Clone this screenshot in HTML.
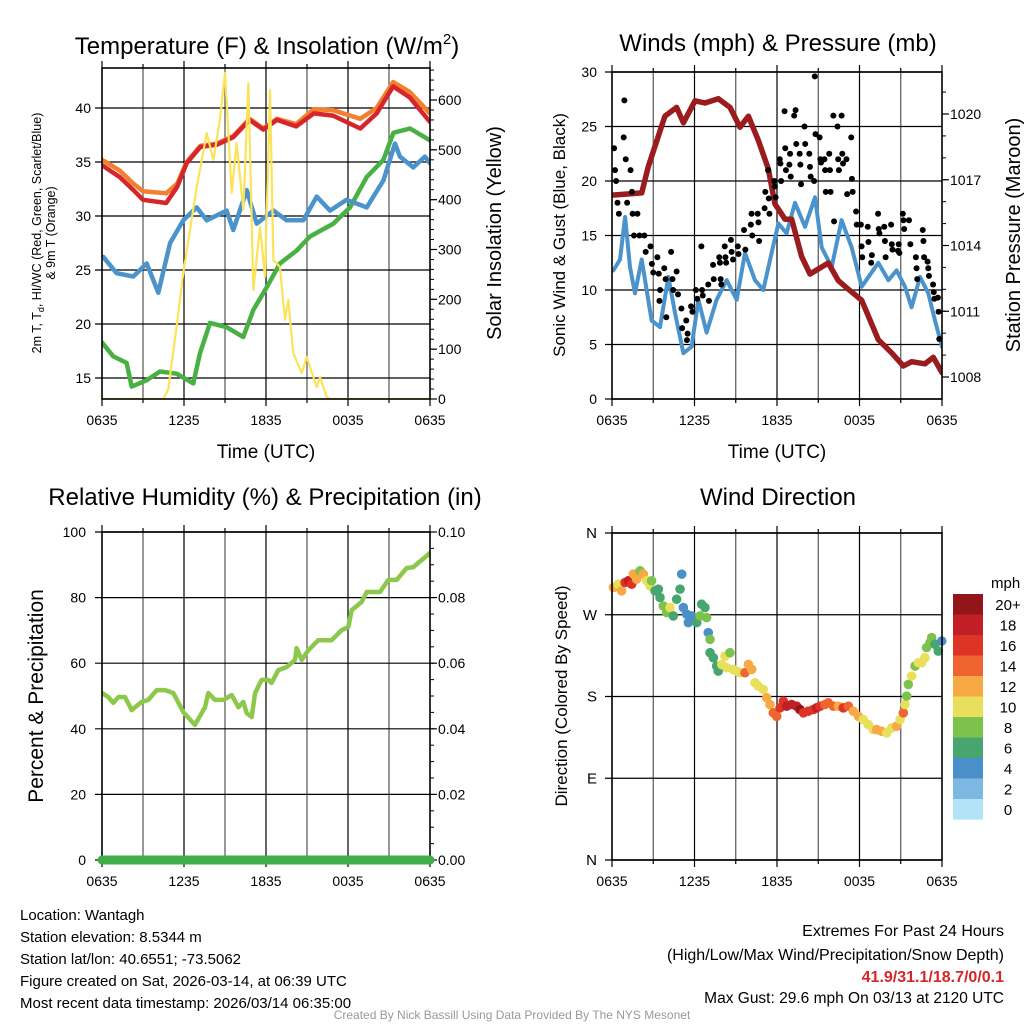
<!DOCTYPE html>
<html><head><meta charset="utf-8">
<style>
html,body{margin:0;padding:0;background:#fff;}
body{width:1024px;height:1024px;overflow:hidden;font-family:"Liberation Sans",sans-serif;}
svg text{font-family:"Liberation Sans",sans-serif;}
</style></head>
<body>
<svg id="chart" width="1024" height="1024" viewBox="0 0 1024 1024" xmlns="http://www.w3.org/2000/svg">
<g id="layer"></g>
<text x="267" y="54" font-size="24" text-anchor="middle">Temperature (F) &amp; Insolation (W/m<tspan font-size="15" dy="-10">2</tspan><tspan dy="10">)</tspan></text>
<text x="778" y="51" font-size="24" text-anchor="middle">Winds (mph) &amp; Pressure (mb)</text>
<text x="265" y="505" font-size="24" text-anchor="middle">Relative Humidity (%) &amp; Precipitation (in)</text>
<text x="778" y="505" font-size="24" text-anchor="middle">Wind Direction</text>
<text x="266" y="458" font-size="19" text-anchor="middle">Time (UTC)</text>
<text x="777" y="458" font-size="19" text-anchor="middle">Time (UTC)</text>
<g transform="translate(41,233) rotate(-90)" font-size="12.5" text-anchor="middle">
<text x="0" y="0">2m T, T<tspan font-size="9" dy="3">d</tspan><tspan dy="-3">, HI/WC (Red, Green, Scarlet/Blue)</tspan></text>
<text x="0" y="14">&amp; 9m T (Orange)</text></g>
<text transform="translate(501,233) rotate(-90)" font-size="20" text-anchor="middle">Solar Insolation (Yellow)</text>
<text transform="translate(565,235) rotate(-90)" font-size="17" text-anchor="middle">Sonic Wind &amp; Gust (Blue, Black)</text>
<text transform="translate(1020,235) rotate(-90)" font-size="20" text-anchor="middle">Station Pressure (Maroon)</text>
<text transform="translate(43,696) rotate(-90)" font-size="21" text-anchor="middle">Percent &amp; Precipitation</text>
<text transform="translate(567,696) rotate(-90)" font-size="17" text-anchor="middle">Direction (Colored By Speed)</text>
<text x="991" y="588" font-size="15">mph</text>
<g font-size="15">
<text x="20" y="920">Location: Wantagh</text>
<text x="20" y="942">Station elevation: 8.5344 m</text>
<text x="20" y="964">Station lat/lon: 40.6551; -73.5062</text>
<text x="20" y="986">Figure created on Sat, 2026-03-14, at 06:39 UTC</text>
<text x="20" y="1008">Most recent data timestamp: 2026/03/14 06:35:00</text>
</g>
<g font-size="16" text-anchor="end">
<text x="1004" y="936">Extremes For Past 24 Hours</text>
<text x="1004" y="960">(High/Low/Max Wind/Precipitation/Snow Depth)</text>
<text x="1004" y="982" fill="#d7262b" font-weight="bold">41.9/31.1/18.7/0/0.1</text>
<text x="1004" y="1003" font-size="15.5">Max Gust: 29.6 mph On 03/13 at 2120 UTC</text>
</g>
<text x="512" y="1019" font-size="12" fill="#999" text-anchor="middle">Created By Nick Bassill Using Data Provided By The NYS Mesonet</text>
</svg>
<script>
// ---- data ----
const xTickLabels = ["0635","1235","1835","0035","0635"];
const tempH = [0,1.3,2.3,3.0,4.7,5.5,6.2,7.2,8.4,9.6,10.8,11.8,12.8,14.2,15.5,16.9,18.9,20.1,21.3,22.5,24];
const tempT = [34.7,33.6,32.4,31.5,31.2,32.7,34.9,36.4,36.6,37.3,38.9,38.0,38.9,38.3,39.5,39.3,38.1,39.5,42.0,41.0,38.7];
const temp9m = [35.2,34.2,33.0,32.3,32.1,33.0,35.0,36.5,36.7,37.4,39.0,38.1,39.0,38.5,39.9,39.8,39.0,40.0,42.4,41.5,39.5];
const dewH = [0.1,1.07,2.29,3.27,4.12,4.98,5.95,6.93,7.66,9.12,9.61,10.59,11.32,12.54,13.51,14.73,15.71,16.68,17.9,19.37,20.59,21.44,21.8,22.78,23.63,24];
const dewT = [26.2,24.7,24.4,25.6,22.9,27.5,29.6,30.8,29.6,30.5,28.7,32.4,29.3,30.5,29.6,29.6,31.8,30.5,31.5,30.8,33.3,36.7,35.5,34.5,35.5,34.9];
const wcH = [0,0.83,1.8,2.17,3.27,4.24,5.46,6.68,7.17,7.9,9.12,10.34,11.07,12.05,13.02,14.24,15.22,16.93,18.15,19.37,20.59,21.32,22.54,24];
const wcT = [18.3,17,16.4,14.2,14.8,15.6,15.4,14.5,17.3,20.1,19.7,18.8,21.3,23.4,25.6,26.8,28.1,29.3,30.8,33.6,35.2,37.7,38.1,37];
const solH = [0,4.49,4.85,5.46,5.95,6.93,7.17,7.66,8.15,8.63,9.0,9.49,9.85,10.34,10.71,11.07,11.56,11.93,12.29,12.54,13.02,13.39,13.63,14.0,14.61,14.98,15.71,15.95,16.44,16.68,24];
const solW = [0,0,20,145,253,425,460,534,480,560,654,413,514,380,634,219,345,245,620,279,265,159,199,92,52,84,24,44,4,0,0];
const tempTicks = [15,20,25,30,35,40];
const solTicks = [0,100,200,300,400,500,600];

const presH = [0,2.16,2.64,3.85,4.7,5.19,6.04,6.76,7.73,8.58,9.31,9.92,10.64,11.37,11.85,12.58,13.07,13.79,14.4,15.73,16.46,17.19,18.16,19.37,20.34,21.19,21.79,22.76,23.37,24];
const presMb = [1016.3,1016.4,1017.6,1019.9,1020.3,1019.6,1020.6,1020.5,1020.7,1020.3,1019.4,1019.9,1018.8,1017.5,1015.9,1015.2,1015.2,1013.5,1012.7,1013.2,1012.4,1012.0,1011.5,1009.7,1009.1,1008.5,1008.7,1008.6,1008.9,1008.2];
const windH = [0.1,0.58,0.95,1.31,1.67,2.16,2.88,3.49,4.1,4.58,5.19,5.79,6.28,6.88,7.61,8.34,9.07,9.67,10.4,11.0,11.61,12.1,12.7,13.31,14.04,14.76,15.25,15.98,16.7,17.43,18.16,19.37,20.1,20.7,21.31,21.79,22.4,23.0,23.49,24];
const windMph = [11.8,12.8,16.7,12.1,9.7,12.8,7.2,6.6,11.2,7.9,4.2,4.8,9.1,6.1,9.1,10.9,9.1,13.4,10.9,10,13.4,16.1,15.2,18,15.8,18.5,13.9,12.1,16.4,13.9,10.3,12.5,10.9,11.8,10.3,8.4,11.2,9.7,7.2,4.8];
const gustH = [0.15,0.22,0.3,0.4,0.5,0.9,0.85,1.0,1.1,1.35,1.45,1.5,1.6,1.85,2.0,2.35,2.45,2.8,2.9,3.0,3.3,3.4,3.5,3.45,3.8,3.9,3.95,4.3,4.4,4.45,4.7,4.8,5.05,5.1,5.4,5.45,5.5,5.75,5.85,6.1,6.2,6.5,6.55,6.6,7.0,7.05,7.35,7.4,7.8,7.85,7.9,7.95,8.2,8.25,8.3,8.65,8.7,8.8,9.15,9.2,9.6,9.7,10.1,10.15,10.2,10.6,10.65,10.7,11.1,11.15,11.35,11.4,11.45,11.8,11.85,11.9,12.2,12.25,12.3,12.55,12.6,12.65,12.9,12.95,13.0,13.25,13.35,13.4,13.65,13.7,13.75,14.0,14.05,14.35,14.4,14.45,14.75,14.8,14.7,15.1,15.15,15.2,15.45,15.5,15.55,15.8,15.85,15.9,16.1,16.15,16.4,16.45,16.5,16.7,16.75,16.8,17.05,17.1,17.4,17.45,17.5,17.75,17.8,18.1,18.15,18.2,18.6,18.65,18.85,18.9,19.35,19.4,19.45,19.8,19.85,19.9,20.3,20.35,20.4,20.8,20.85,20.9,21.15,21.2,21.25,21.6,21.7,22.1,22.15,22.2,22.6,22.65,22.7,22.95,23.0,23.05,23.35,23.4,23.45,23.7,23.75,23.8];
const gustMph = [23,21,20,18,17,27.4,24,22,18,21,19,17,15,17,15,15,13.5,14,12.4,11.6,13,11.5,10,9,12,11,7.5,13.5,11,10,11.7,9.6,8.3,6.5,7.2,5.4,6,8.5,8,10,9.2,14,10,9.5,10.5,9,12.3,11,13,12.5,11,10.5,14,13,12.5,14.6,13.5,12.8,14,13.3,15.5,13.7,16,17,15,17,16.2,14.5,17.5,19,21,18.4,17,20,19.5,18.5,22,21.6,20,26.4,23,21,21.5,22.5,20.4,26,26.5,23.4,22.5,21.5,19.7,25,23.4,22.5,21.3,20.4,29.6,24.3,20,24,22,21.7,22,21,19,22.5,21,19,26,16.3,25,22,21,26,22.5,21.6,22,18.8,24,20.2,19,17.2,16,16,14,13,15.8,14.4,12.5,13.2,17,15.6,15.2,15.8,14.5,13,16,14.2,13.7,13.6,14.2,13.4,17,16.4,15.6,16.4,14.2,13,12,11,15.5,14.5,13,12.6,12,11.3,10.5,9.8,9.2,9.3,8,5.5];
const windTicks = [0,5,10,15,20,25,30];
const presTicks = [1008,1011,1014,1017,1020];

const rhH = [0,0.46,0.83,1.2,1.68,2.17,2.9,3.39,4.0,4.61,5.22,5.95,6.8,7.54,7.78,8.27,8.88,9.49,9.98,10.34,10.59,10.95,11.2,11.68,12.17,12.41,12.9,13.51,14.12,14.24,14.61,15.1,15.83,16.8,17.54,18.02,18.27,19.0,19.37,20.34,20.95,21.56,22.29,22.78,24];
const rhPct = [50.9,49.7,47.9,49.7,49.7,45.7,48.2,48.8,51.8,51.8,50.9,45.1,41.2,46.6,50.9,48.8,48.8,50.3,46.6,48.2,44.8,43.6,50.9,54.9,54.9,54.0,57.9,58.8,61.0,64.6,61.0,64.0,67.0,67.0,70.1,71.0,76.2,78.7,81.7,81.7,85.4,85.4,89.0,89.3,93.6];
const precipH = [0,24];
const precipIn = [0,0];
const rhTicks = [0,20,40,60,80,100];
const precipTicks = ["0.00","0.02","0.04","0.06","0.08","0.10"];

const dirH = [0.1,0.46,0.7,0.95,1.19,1.43,1.55,1.79,2.04,2.28,2.52,2.76,2.88,3.13,3.37,3.49,3.73,3.98,4.22,4.46,4.7,4.95,5.07,5.19,5.43,5.55,5.79,6.04,6.16,6.4,6.52,6.76,6.88,7.0,7.13,7.13,7.37,7.61,7.73,7.98,8.22,8.58,8.34,8.82,9.07,9.31,9.67,9.92,10.16,10.4,10.64,11.0,11.25,11.49,11.73,11.98,12.22,12.46,12.7,13.07,13.43,13.67,13.92,14.28,14.64,14.88,15.13,15.49,15.73,16.1,16.46,16.82,17.19,17.55,17.92,18.28,18.64,19.0,19.25,19.61,19.98,20.34,20.7,20.95,21.19,21.31,21.43,21.55,21.79,22.04,22.28,22.52,22.76,22.88,23.13,23.25,23.49,23.73,23.98];
const dirDeg = [300,303.6,296.3,305.5,307.4,303.6,314.7,309.2,318.4,314.7,307.4,301.8,307.4,296.3,298.2,289,279.7,272.4,277.9,268.7,287.1,298.2,314.7,277.9,270.6,261.4,268.7,265,261.4,268.7,281.6,277.9,266.9,250.3,242.9,228.2,222.7,213.5,208,215.3,224.5,228.2,211.7,209.8,208,206.2,206.2,215.3,209.8,195.1,191.4,187.7,178.6,171.2,162,158.2,167.5,174.8,169.3,171.2,169.3,165.6,162,163.8,165.6,167.5,169.3,171.2,173,169.3,169.3,167.5,169.3,163.8,158.2,154.6,149.1,143.6,143.6,141.7,139.9,145.4,147.2,154.6,162,171.2,180.4,193.3,202.4,213.5,217.2,217.2,222.7,233.8,239.3,244.8,237.4,230,241.1];
const dirSpd = [12,10,12,16,18,16,12,12,8,12,10,10,8,6,6,6,8,8,10,6,6,6,4,4,4,4,4,4,6,8,6,6,8,4,8,6,6,6,6,10,10,8,10,10,10,10,14,12,12,10,10,10,12,12,14,14,16,16,18,18,18,20,16,16,16,18,16,14,14,14,12,16,14,12,12,10,10,10,12,12,10,10,12,10,14,10,8,8,10,8,10,10,10,8,8,8,6,6,4];
const dirTicks = ["N","W","S","E","N"];
const speedBins = ["20+","18","16","14","12","10","8","6","4","2","0"];
const speedColors = ["#921519","#c11f26","#dd3427","#ef6530","#f6a944","#e8e05a","#7dc24c","#47a56f","#4a8fc8","#7cb8e2","#b3e3f7"];

// ---- drawing ----
const NS = "http://www.w3.org/2000/svg";
const layer = document.getElementById("layer");
function mk(tag, attrs, parent) {
  const e = document.createElementNS(NS, tag);
  for (const k in attrs) e.setAttribute(k, attrs[k]);
  (parent || layer).appendChild(e);
  return e;
}
function scale(d0, d1, r0, r1) { return v => r0 + (v - d0) * (r1 - r0) / (d1 - d0); }

function panel(name, x0, x1, y0, y1) {
  const g = mk("g", {});
  
  
  const xs = scale(0, 24, x0, x1);
  for (let h = 3; h < 24; h += 3) {
    const l = mk("line", {x1: xs(h), x2: xs(h), y1: y0, y2: y1, stroke: (h % 6 === 0) ? "#000" : "#555", "stroke-width": 1.2}, g);
    
    
  }
  for (let h = 0; h <= 24; h += 3) {
    const len = (h % 6 === 0) ? 7 : 4;
    const t = mk("line", {x1: xs(h), x2: xs(h), y1: y1, y2: y1 + len, stroke: "#000", "stroke-width": 1.2}, g);
    
    
    const t2 = mk("line", {x1: xs(h), x2: xs(h), y1: y0, y2: y0 - len, stroke: "#000", "stroke-width": 1.2}, g);
    
    
  }
  xTickLabels.forEach((s, i) => {
    const t = mk("text", {x: xs(i * 6), y: y1 + 26, "font-size": 14, "text-anchor": "middle"}, g);
    
    
    t.textContent = s;
  });
  return {g, xs};
}
function frame(g, x0, x1, y0, y1) {
  const r = mk("rect", {x: x0, y: y0, width: x1 - x0, height: y1 - y0, fill: "none", stroke: "#000", "stroke-width": 1.6}, g);
  
  
}
function hGrid(g, x0, x1, ys, ticks, labels, lx, anchor, fs) {
  ticks.forEach((v, i) => {
    const y = ys(v);
    const l = mk("line", {x1: x0 - 7, x2: x1, y1: y, y2: y, stroke: "#000", "stroke-width": 1.2}, g);
    
    
    const t = mk("text", {x: lx, y: y + 5, "font-size": fs || 14, "text-anchor": anchor}, g);
    
    
    t.textContent = labels ? labels[i] : v;
  });
}
function rightTicks(g, x1, ys, ticks, labels, minorStep, dmin, dmax) {
  if (minorStep) for (let v = dmin; v <= dmax + 1e-9; v += minorStep) {
    const m = mk("line", {x1: x1, x2: x1 + 4, y1: ys(v), y2: ys(v), stroke: "#000", "stroke-width": 1}, g);
    
    
  }
  ticks.forEach((v, i) => {
    const l = mk("line", {x1: x1, x2: x1 + 7, y1: ys(v), y2: ys(v), stroke: "#000", "stroke-width": 1.2}, g);
    
    
    const t = mk("text", {x: x1 + 8, y: ys(v) + 5, "font-size": 14}, g);
    
    
    t.textContent = labels ? labels[i] : v;
  });
}
function line(g, name, hs, vs, xs, ys, color, w, clip) {
  const pts = hs.map((h, i) => xs(h).toFixed(1) + "," + ys(vs[i]).toFixed(1)).join(" ");
  const p = mk("polyline", {points: pts, fill: "none", stroke: color, "stroke-width": w, "stroke-linejoin": "round", "stroke-linecap": "round"}, g);
  if (clip) p.setAttribute("clip-path", clip);
  
  
  return p;
}
function clip(id, x0, x1, y0, y1) {
  const c = mk("clipPath", {id: id});
  mk("rect", {x: x0, y: y0, width: x1 - x0, height: y1 - y0}, c);
  return "url(#" + id + ")";
}

// Panel 1
(function () {
  const x0 = 102, x1 = 430, y0 = 68, y1 = 399;
  const {g, xs} = panel("temperature", x0, x1, y0, y1);
  const ys = scale(15, 40, 378, 108);
  const ysol = scale(0, 600, 399, 100);
  hGrid(g, x0, x1, ys, tempTicks, null, 91, "end");
  rightTicks(g, x1, ysol, solTicks, null, 20, 0, 660);
  const cp = clip("c1", x0, x1, y0, y1);
  line(g, "wind-chill-line", wcH, wcT, xs, ys, "#49b043", 4.5, cp);
  line(g, "dewpoint-line", dewH, dewT, xs, ys, "#4b93cc", 4.5, cp);
  line(g, "temp-9m-line", tempH, temp9m, xs, ys, "#f2802f", 4.5, cp);
  line(g, "temp-2m-line", tempH, tempT, xs, ys, "#d7262b", 4.5, cp);
  line(g, "insolation-line", solH, solW, xs, ysol, "#fbe35a", 2.2, cp);
  frame(g, x0, x1, y0, y1);
})();

// Panel 2
(function () {
  const x0 = 612, x1 = 942, y0 = 72, y1 = 399;
  const {g, xs} = panel("winds", x0, x1, y0, y1);
  const ys = scale(0, 30, 399, 72);
  const yp = scale(1008, 1020, 377, 114);
  hGrid(g, x0, x1, ys, windTicks, null, 597, "end");
  rightTicks(g, x1, yp, presTicks, null, 1, 1008, 1021);
  const cp = clip("c2", x0, x1, y0, y1);
  line(g, "sonic-wind-line", windH, windMph, xs, ys, "#4b93cc", 4, cp);
  line(g, "pressure-line", presH, presMb, xs, yp, "#9a1c1f", 5.5, cp);
  gustH.forEach((h, i) => {
    const c = mk("circle", {cx: xs(h), cy: ys(gustMph[i]), r: 3, fill: "#000"}, g);
    
    
  });
  frame(g, x0, x1, y0, y1);
})();

// Panel 3
(function () {
  const x0 = 102, x1 = 430, y0 = 532, y1 = 860;
  const {g, xs} = panel("humidity", x0, x1, y0, y1);
  const ys = scale(0, 100, 860, 532);
  const ypr = scale(0, 0.1, 860, 532);
  hGrid(g, x0, x1, ys, rhTicks, null, 86, "end");
  rightTicks(g, x1, ys, rhTicks, precipTicks, 5, 0, 100);
  const cp = clip("c3", x0, x1, y0, y1);
  line(g, "humidity-line", rhH, rhPct, xs, ys, "#8cc84b", 4.5, cp);
  frame(g, x0, x1, y0, y1);
  line(g, "precipitation-line", precipH, precipIn, xs, ypr, "#3fae49", 9, null);
})();

// Panel 4
(function () {
  const x0 = 612, x1 = 942, y0 = 533, y1 = 860;
  const {g, xs} = panel("wind-direction", x0, x1, y0, y1);
  const ys = scale(0, 360, 860, 533);
  const tickDeg = [360, 270, 180, 90, 0];
  hGrid(g, x0, x1, ys, tickDeg, dirTicks, 597, "end", 15);
  dirH.forEach((h, i) => {
    const idx = speedBins.indexOf(dirSpd[i] >= 20 ? "20+" : String(dirSpd[i]));
    const c = mk("circle", {cx: xs(h), cy: ys(dirDeg[i]), r: 4.8, fill: speedColors[idx]}, g);
    
    
  });
  frame(g, x0, x1, y0, y1);
  // colorbar
  const cb = mk("g", {});
  
  
  speedBins.forEach((s, i) => {
    const y = 594 + i * 20.5;
    const r = mk("rect", {x: 953, y: y, width: 30, height: 20.6, fill: speedColors[i]}, cb);
    
    
    const t = mk("text", {x: 1008, y: y + 16, "font-size": 15, "text-anchor": "middle"}, cb);
    
    
    t.textContent = s;
  });
})();
</script>
</body></html>
